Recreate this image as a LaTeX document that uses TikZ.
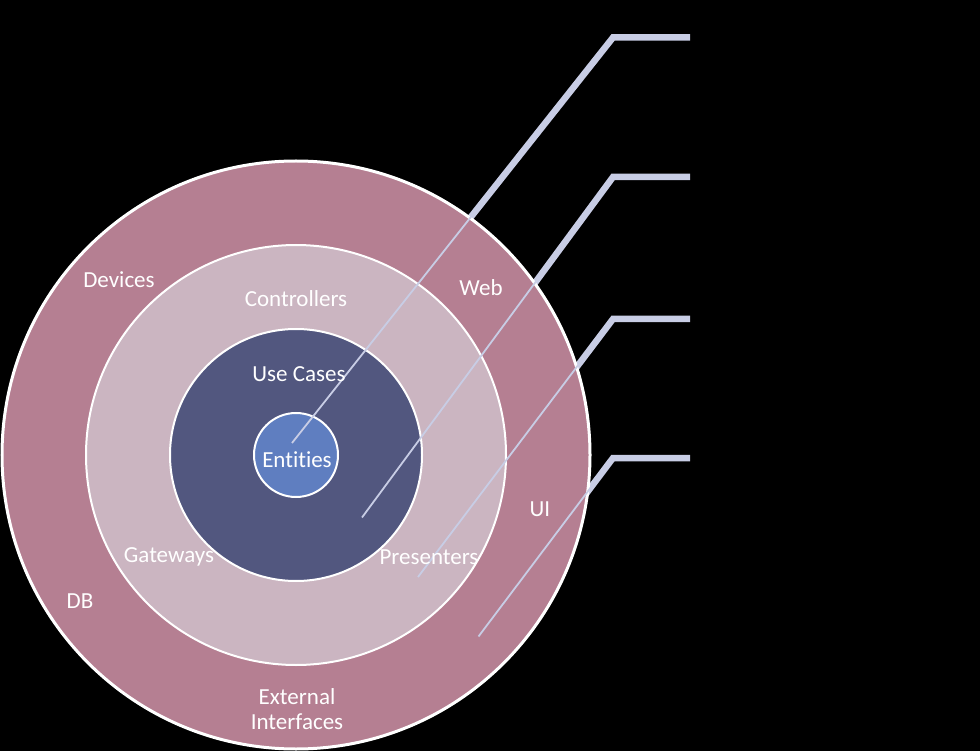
\documentclass[tikz,border=0pt]{standalone}
\usepackage{fontspec}
\setmainfont{Carlito}[Ligatures=NoCommon]
\definecolor{OuterRing}{HTML}{B57F92}
\definecolor{AdapterRing}{HTML}{CBB5C1}
\definecolor{CaseRing}{HTML}{52577F}
\definecolor{CoreRing}{HTML}{5F7EC0}
\definecolor{Leader}{HTML}{C8CDE5}
\tikzset{
  ring/.style={circle,draw=white,line width=2pt,inner sep=0pt},
  lbl/.style={text=white,font=\fontsize{23}{25}\selectfont,align=center,inner sep=0pt},
  leaderwide/.style={Leader,line width=6.5pt,line join=miter},
  leaderthin/.style={Leader,line width=1.8pt}
}
\begin{document}
\begin{tikzpicture}[x=1pt,y=-1pt]
        \fill[black] (0,0) rectangle (980,751);
        \useasboundingbox (0,0) rectangle (980,751);

        \coordinate (a0) at (292, 443);
        \coordinate (a1) at (613, 37.5);
        \coordinate (a2) at (690, 37.5);
        \coordinate (b0) at (362, 517.5);
        \coordinate (b1) at (613, 177);
        \coordinate (b2) at (690, 177);
        \coordinate (c0) at (418, 577);
        \coordinate (c1) at (613, 319);
        \coordinate (c2) at (690, 319);
        \coordinate (d0) at (478.5, 636.5);
        \coordinate (d1) at (613, 458);
        \coordinate (d2) at (690, 458);

        \draw[leaderwide] (a0) -- (a1) -- (a2);
        \draw[leaderwide] (b0) -- (b1) -- (b2);
        \draw[leaderwide] (c0) -- (c1) -- (c2);
        \draw[leaderwide] (d0) -- (d1) -- (d2);

        \node[ring,fill=OuterRing,line width=3pt,minimum size=588pt] (outer) at (296, 455) {};
        \node[ring,fill=AdapterRing,minimum size=420pt] (adapters) at (296, 455) {};
        \node[ring,fill=CaseRing,minimum size=252pt] (cases) at (296, 455) {};
        \node[ring,fill=CoreRing,minimum size=84pt] (core) at (296, 455) {};

        \draw[leaderthin] (a0) -- (a1);
        \draw[leaderthin] (b0) -- (b1);
        \draw[leaderthin] (c0) -- (c1);
        \draw[leaderthin] (d0) -- (d1);

        \node[lbl] (devices) at (119, 280) {Devices};
        \node[lbl] (web) at (481, 288) {Web};
        \node[lbl] (ui) at (540, 509) {UI};
        \node[lbl] (db) at (80, 601) {DB};
        \node[lbl] (external) at (297, 709) {External\\Interfaces};
        \node[lbl] (controllers) at (296, 299) {Controllers};
        \node[lbl] (gateways) at (169, 557) {Gateways};
        \node[lbl] (presenters) at (429, 557) {Presenters};
        \node[lbl] (usecases) at (299, 374) {Use Cases};
        \node[lbl] (entities) at (297, 460) {Entities};
    \end{tikzpicture}
\end{document}
